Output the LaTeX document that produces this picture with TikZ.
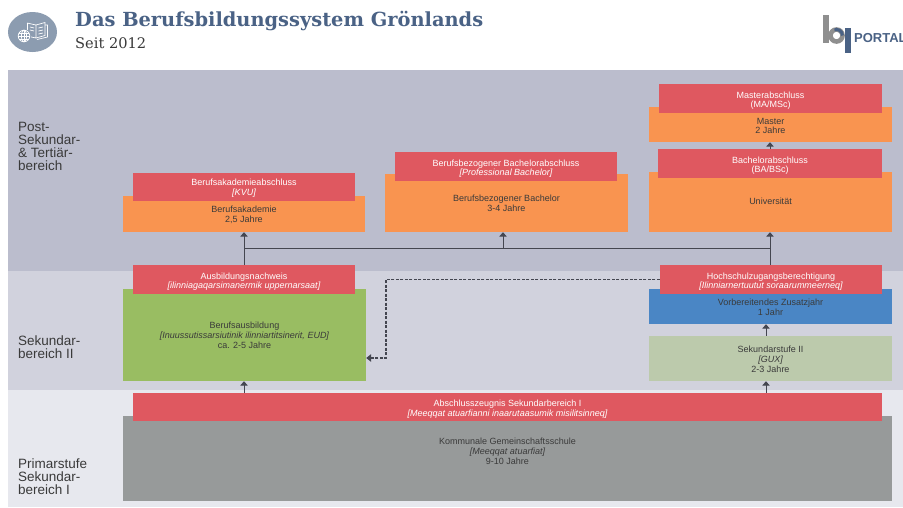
\documentclass[tikz,border=0pt]{standalone}
\usepackage{fontspec}
\setmainfont{Liberation Sans}
\newfontfamily\titlefont{DejaVu Serif}
\usetikzlibrary{arrows.meta}
\definecolor{bandA}{HTML}{BBBDCD}
\definecolor{bandB}{HTML}{D1D2DD}
\definecolor{bandC}{HTML}{E7E8EE}
\definecolor{cred}{HTML}{DF5860}
\definecolor{corange}{HTML}{F99450}
\definecolor{cgreen}{HTML}{99BD62}
\definecolor{cblue}{HTML}{4A86C5}
\definecolor{csage}{HTML}{BCCAAC}
\definecolor{cgrey}{HTML}{979A9A}
\definecolor{ctitle}{HTML}{4A6285}
\definecolor{cicon}{HTML}{8C9CB0}
\definecolor{ctext}{HTML}{3A3A3A}
\definecolor{cline}{HTML}{444650}
\definecolor{clogo}{HTML}{8F8F8F}
\newcommand{\tx}[2]{\raisebox{-#1pt}[\height][\depth]{\begin{tabular}{@{}c@{}}#2\end{tabular}}}
\tikzset{
  x=1pt,y=-1pt,
  lbl/.style={font=\fontsize{9}{9.7}\selectfont,inner sep=0pt,text=ctext},
  redbox/.style={lbl,fill=cred,text=white},
  orbox/.style={lbl,fill=corange},
  grbox/.style={lbl,fill=cgreen},
  blbox/.style={lbl,fill=cblue},
  sgbox/.style={lbl,fill=csage},
  gybox/.style={lbl,fill=cgrey},
  bandlabel/.style={font=\fontsize{13.5}{13}\selectfont,align=left,anchor=west,inner sep=0pt,text=ctext},
  conn/.style={draw=cline,line width=1pt},
  arr/.style={conn,-{Triangle[width=7.5pt,length=4.5pt]}},
  dasharr/.style={draw=cline,line width=1.3pt,dashed,dash pattern=on 3pt off 1.5pt,-{Triangle[width=7.5pt,length=5pt]}},
  iconline/.style={draw=white,line width=0.7pt}
}
\begin{document}
\begin{tikzpicture}
\useasboundingbox (0,0) rectangle (903,507);
\fill[white] (0,0) rectangle (903,507);
% bands
\fill[bandA] (8,70) rectangle (903,271);
\fill[bandB] (8,271) rectangle (903,390);
\fill[bandC] (8,390) rectangle (903,507);
% header
\fill[cicon] (32.5,32) ellipse [x radius=24.5,y radius=20];
\draw[iconline] (27,23) -- (36,25) -- (36,38) -- (29,36.5);
\draw[iconline] (27,23) -- (27,30);
\draw[iconline] (36,25) -- (45,22.5) -- (45,35.5) -- (36,38);
\draw[iconline] (45,25) -- (47.5,25) -- (47.5,37) -- (37,39.5);
\draw[iconline] (38.5,28) -- (43,27) (38.5,31) -- (43,30) (38.5,34) -- (43,33);
\draw[iconline] (30,27) -- (34,28) (30,30) -- (34,31);
\fill[cicon] (24,36) circle [radius=7];
\draw[iconline] (24,36) circle [radius=5.8];
\draw[iconline] (24,36) ellipse [x radius=2.6,y radius=5.8];
\draw[iconline] (18.2,36) -- (29.8,36) (19,33) -- (29,33) (19,39) -- (29,39) (24,30.2) -- (24,41.8);
\node[anchor=west,inner sep=0pt,font=\titlefont\bfseries\fontsize{19.4}{22}\selectfont,text=ctitle] (title) at (75,21) {Das Berufsbildungssystem Grönlands};
\node[anchor=west,inner sep=0pt,font=\titlefont\fontsize{14.6}{16}\selectfont,text=ctext] (subtitle) at (75,43.5) {Seit 2012};
% logo
\begin{scope}
\clip (780,0) rectangle (903,70);
\fill[clogo] (823,15) rectangle (828.5,43);
\draw[clogo,line width=4.6pt] (836.5,35.5) circle [radius=6];
\draw[ctitle,line width=3pt] (842.5,35.5) arc [start angle=0,end angle=-110,radius=6];
\fill[ctitle] (845,27.5) rectangle (850.5,52.5);
\node[anchor=west,inner sep=0pt,font=\bfseries\fontsize{13}{14}\selectfont,text=ctitle] (portal) at (854,38.5) {PORTAL};
\end{scope}
% band labels
\node[bandlabel] (lblA) at (18,146) {Post-\\Sekundar-\\\& Tertiär-\\bereich};
\node[bandlabel] (lblB) at (18,347.5) {Sekundar-\\bereich II};
\node[bandlabel] (lblC) at (18,477) {Primarstufe\\Sekundar-\\bereich I};
% top row
\node[orbox,minimum width=243pt,minimum height=35pt] (mas) at (770.5,124.5) {\tx{2.5}{Master\\2 Jahre}};
\node[redbox,minimum width=223pt,minimum height=29pt] (masr) at (770.5,98.5) {\tx{2.5}{Masterabschluss\\(MA/MSc)}};
\node[orbox,minimum width=243pt,minimum height=60pt] (uni) at (770.5,202) {\tx{1}{Universität}};
\node[redbox,minimum width=224pt,minimum height=29pt] (unir) at (770,163.5) {\tx{2.5}{Bachelorabschluss\\(BA/BSc)}};
\node[orbox,minimum width=243pt,minimum height=58pt] (prof) at (506.5,203) {\tx{1.5}{Berufsbezogener Bachelor\\3-4 Jahre}};
\node[redbox,minimum width=222pt,minimum height=29pt] (profr) at (506,166.5) {\tx{2.5}{Berufsbezogener Bachelorabschluss\\{\itshape[Professional Bachelor]}}};
\node[orbox,minimum width=242pt,minimum height=36pt] (bak) at (244,214) {\tx{1.5}{Berufsakademie\\2,5 Jahre}};
\node[redbox,minimum width=222pt,minimum height=28pt] (bakr) at (244,187) {\tx{1.5}{Berufsakademieabschluss\\{\itshape[KVU]}}};
% middle row
\node[grbox,minimum width=243pt,minimum height=92pt] (gr) at (244.5,335) {\tx{1.5}{Berufsausbildung\\{\itshape[Inuussutissarsiutinik ilinniartitsinerit, EUD]}\\ca. 2-5 Jahre}};
\node[redbox,minimum width=222pt,minimum height=29pt] (grr) at (244,279.5) {\tx{2.5}{Ausbildungsnachweis\\{\itshape[ilinniagaqarsimanermik uppernarsaat]}}};
\node[blbox,minimum width=243pt,minimum height=35pt] (bl) at (770.5,306.5) {\tx{2}{Vorbereitendes Zusatzjahr\\1 Jahr}};
\node[redbox,minimum width=222pt,minimum height=29pt] (hoch) at (771,279.5) {\tx{2.5}{Hochschulzugangsberechtigung\\{\itshape[Ilinniarnertuutut soraarummeerneq]}}};
\node[sgbox,minimum width=243pt,minimum height=45pt] (sek) at (770.5,358.5) {\tx{2}{Sekundarstufe II\\{\itshape[GUX]}\\2-3 Jahre}};
% bottom row
\node[gybox,minimum width=769pt,minimum height=85pt] (ks) at (507.5,458.5) {\tx{-6}{Kommunale Gemeinschaftsschule\\{\itshape[Meeqqat atuarfiat]}\\9-10 Jahre}};
\node[redbox,minimum width=749pt,minimum height=28pt] (abs) at (507.5,407) {\tx{2.5}{Abschlusszeugnis Sekundarbereich I\\{\itshape[Meeqqat atuarfianni inaarutaasumik misilitsinneq]}}};
% connectors
\coordinate (jl) at (244,248.6);
\coordinate (jm) at (503,248.6);
\coordinate (jr) at (770,248.6);
\coordinate (xs) at (766,300);
\coordinate (dk) at (386,279.5);
\coordinate (dg) at (386,358);
\draw[conn] (jl) -- (jm) -- (jr);
\draw[arr] (grr.north -| jl) -- (bak.south -| jl);
\draw[arr] (jm) -- (prof.south -| jm);
\draw[arr] (hoch.north -| jr) -- (uni.south -| jr);
\draw[arr] (unir.north -| jr) -- (mas.south -| jr);
\draw[arr] (sek.north -| xs) -- (bl.south -| xs);
\draw[arr] (abs.north -| xs) -- (sek.south -| xs);
\draw[arr] (abs.north -| jl) -- (gr.south -| jl);
\draw[dasharr] (hoch.west) -- (dk) -- (dg) -- (gr.east |- dg);
\end{tikzpicture}
\end{document}
